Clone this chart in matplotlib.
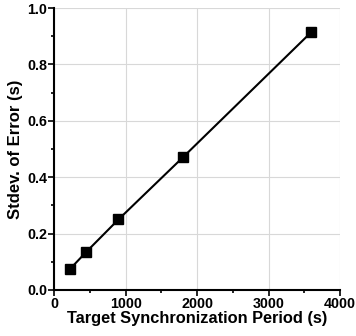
import matplotlib.pyplot as plt
from matplotlib.ticker import MultipleLocator

# Daten
period = [225, 450, 900, 1800, 3600]
stdev = [0.075, 0.135, 0.25, 0.47, 0.915]

plt.rcParams['font.family'] = ['Liberation Sans', 'DejaVu Sans']
plt.rcParams['font.weight'] = 'bold'

fig = plt.figure(figsize=(3.56, 3.36), dpi=100)
ax = fig.add_axes([0.152, 0.137, 0.803, 0.839])

ax.plot(period, stdev, color='black', lw=1.5, marker='s', markersize=6.5)

ax.set_xlim(0, 4000)
ax.set_ylim(0, 1.0)
ax.xaxis.set_major_locator(MultipleLocator(1000))
ax.xaxis.set_minor_locator(MultipleLocator(500))
ax.yaxis.set_major_locator(MultipleLocator(0.2))
ax.yaxis.set_minor_locator(MultipleLocator(0.1))
ax.yaxis.set_major_formatter(plt.FormatStrFormatter('%.1f'))

ax.grid(True, which='major', color='#d8d8d8', lw=0.8)
ax.set_axisbelow(True)
for s in ['top', 'right']:
    ax.spines[s].set_visible(False)
for s in ['left', 'bottom']:
    ax.spines[s].set_linewidth(1.5)

ax.tick_params(which='major', direction='out', length=4, width=1.2, labelsize=10.3, pad=1)
ax.tick_params(which='minor', direction='out', length=2.5, width=1.2)

ax.set_xlabel('Target Synchronization Period (s)', fontsize=11.8, fontweight='bold', labelpad=0)
ax.set_ylabel('Stdev. of Error (s)', fontsize=12, fontweight='bold', labelpad=3)

fig.savefig('out.png', dpi=100)
